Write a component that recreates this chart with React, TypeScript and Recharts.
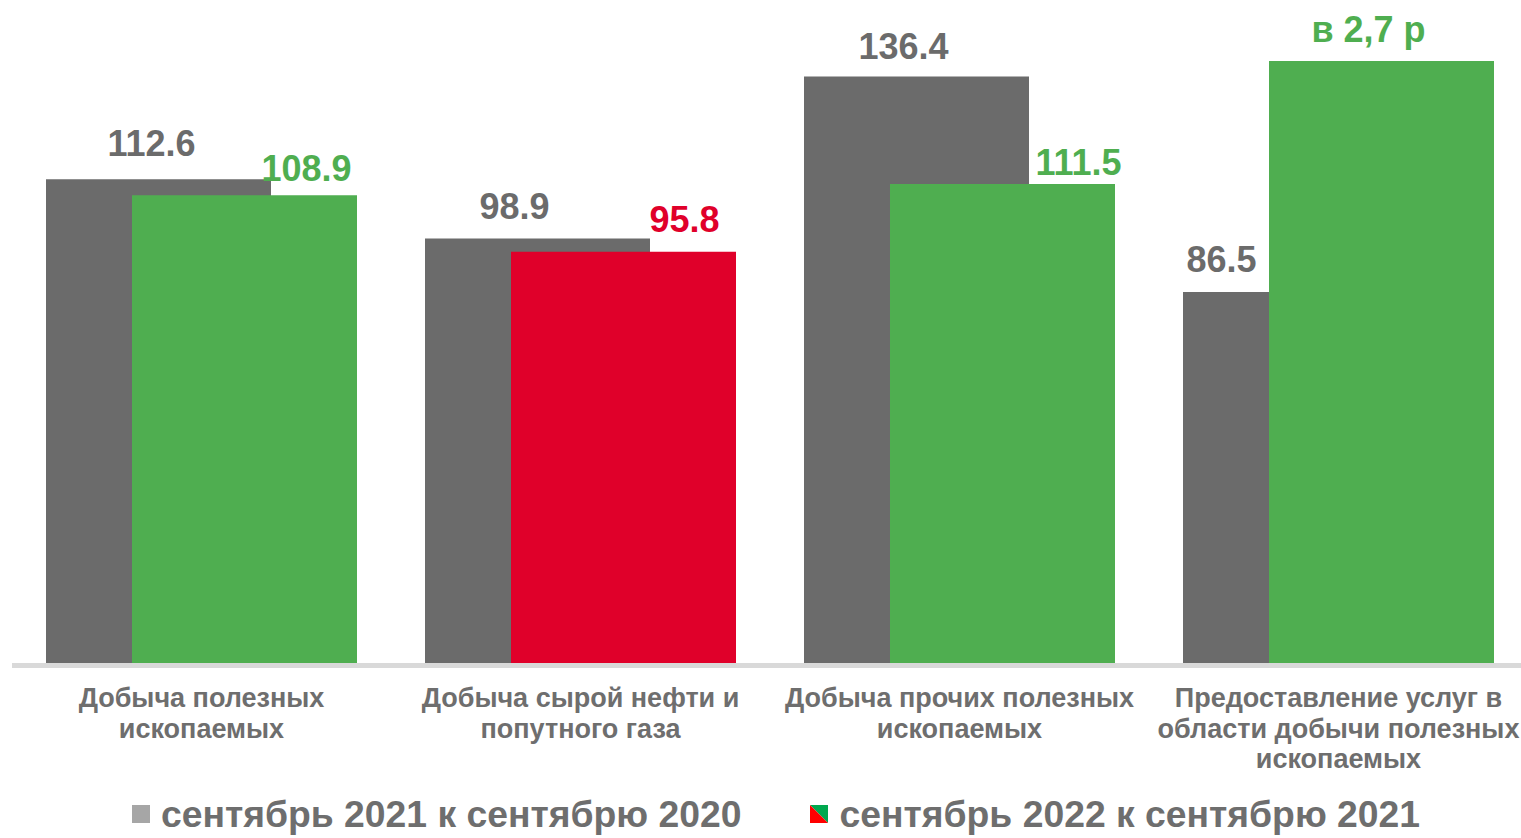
import { BarChart, Bar, XAxis, YAxis, Cell, LabelList, Legend } from 'recharts'

const categories = [
  'Добыча полезных\nископаемых',
  'Добыча сырой нефти и\nпопутного газа',
  'Добыча прочих полезных\nископаемых',
  'Предоставление услуг в\nобласти добычи полезных\nископаемых',
]
const prevYear = [112.6, 98.9, 136.4, 86.5]
const currYear = [108.9, 95.8, 111.5, 270]
const currLabels = ['108.9', '95.8', '111.5', 'в 2,7 р']
const legendNames = ['сентябрь 2021 к сентябрю 2020', 'сентябрь 2022 к сентябрю 2021']

const GREY = '#6b6b6b'
const GREEN = '#4fae50'
const RED = '#e0002a'
const TEXT = '#6e6e6e'
const FONT = '"Liberation Sans", Arial, sans-serif'
const PLOT_TOP = 61

// label nudges, picked by eye
const prevDx = [-7, -23, -13, -74]
const prevDy = [-23, -19, -18, -20]
const currDx = [62, 61, 76, -13]
const currDy = [-14, -20, -9, -19]

const data = categories.map((name, i) => ({
  name,
  prev: prevYear[i],
  curr: currYear[i],
  currLabel: currLabels[i],
}))

const CategoryTick = (props: any) => {
  const { x, y, payload } = props
  const lines = String(payload.value).split('\n')
  return (
    <text x={x} y={y} textAnchor="middle" fill={TEXT} fontFamily={FONT} fontWeight="bold" fontSize={27}>
      {lines.map((l, i) => (
        <tspan key={i} x={x} dy={i === 0 ? 33.5 : 30.5}>{l}</tspan>
      ))}
    </text>
  )
}

const makeLabel = (dxs: number[], dys: number[], color: (i: number) => string) => (props: any) => {
  const { x, y, width, value, index } = props
  const top = Math.max(y, PLOT_TOP)
  return (
    <text x={x + width / 2 + dxs[index]} y={top + dys[index]} textAnchor="middle"
      fill={color(index)} fontFamily={FONT} fontWeight="bold" fontSize={36}>
      {value}
    </text>
  )
}

const LegendBox = () => (
  <div style={{ display: 'flex', justifyContent: 'center', alignItems: 'center', gap: 68, paddingLeft: 31,
    fontFamily: FONT, fontWeight: 'bold', fontSize: 37.3, color: TEXT, lineHeight: '40px' }}>
    <div style={{ display: 'flex', alignItems: 'center' }}>
      <span style={{ width: 18, height: 18, background: '#a6a6a6', marginRight: 11, display: 'inline-block' }} />
      {legendNames[0]}
    </div>
    <div style={{ display: 'flex', alignItems: 'center' }}>
      <svg width={18} height={18} style={{ marginRight: 12 }}>
        <polygon points="0,0 18,0 18,18" fill="#00a84f" />
        <polygon points="0,0 18,18 0,18" fill="#ff0000" />
      </svg>
      {legendNames[1]}
    </div>
  </div>
)

export default function App() {
  return (
    <div style={{ position: 'absolute', top: 0, left: 0, width: 1521, height: 838, overflow: 'hidden', background: '#fff' }}>
      <BarChart width={1530} height={838} data={data} barSize={225} barGap={-139} barCategoryGap={0}
        margin={{ top: PLOT_TOP, right: 2, left: 12, bottom: 0 }}>
        <XAxis dataKey="name" interval={0} tickLine={false} height={122.5}
          axisLine={{ stroke: '#d9d9d9', strokeWidth: 5 }} tick={<CategoryTick />} />
        <YAxis hide domain={[0, 140]} allowDataOverflow />
        <Legend verticalAlign="bottom" height={50} content={<LegendBox />}
          wrapperStyle={{ left: 0, width: 1521, bottom: -6 }} />
        <Bar dataKey="prev" fill={GREY} isAnimationActive={false}>
          <LabelList dataKey="prev" content={makeLabel(prevDx, prevDy, () => GREY)} />
        </Bar>
        <Bar dataKey="curr" fill={GREEN} isAnimationActive={false}>
          {data.map((d, i) => (
            <Cell key={i} fill={d.curr < 100 ? RED : GREEN} />
          ))}
          <LabelList dataKey="currLabel" content={makeLabel(currDx, currDy, i => (currYear[i] < 100 ? RED : GREEN))} />
        </Bar>
      </BarChart>
    </div>
  )
}
